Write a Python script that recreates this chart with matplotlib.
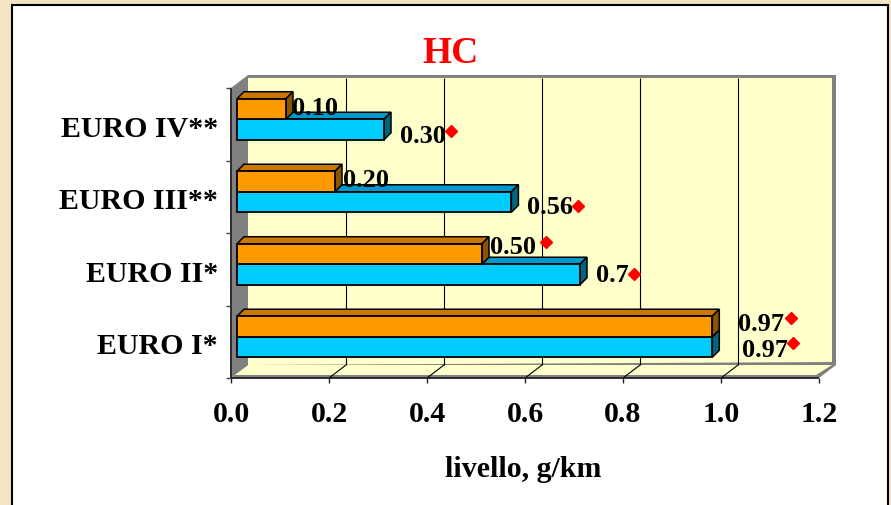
import matplotlib
matplotlib.use("Agg")
import matplotlib.pyplot as plt
from matplotlib.patches import Polygon, Rectangle
from matplotlib.transforms import IdentityTransform

plt.rcParams['font.family'] = ['Liberation Serif', 'DejaVu Serif']
plt.rcParams['font.weight'] = 'bold'

#------------------------------------------------------------------
categories = ['EURO I*', 'EURO II*', 'EURO III**', 'EURO IV**']
blue_vals = [0.97, 0.70, 0.56, 0.30]
orange_vals = [0.97, 0.50, 0.20, 0.10]
blue_labels = ['0.97', '0.7', '0.56', '0.30']
orange_labels = ['0.97', '0.50', '0.20', '0.10']
xticks = [0.0, 0.2, 0.4, 0.6, 0.8, 1.0, 1.2]
title = 'HC'
xlabel = 'livello, g/km'

# label placement (pixels, image y down): text dx, baseline dy, diamond dx, dy
BLUE_LAB = [(30, 9.5, 81, -4.5), (16, 7.5, 54, -0.5), (16, 12, 67, 4), (16, 13.5, 67, 1.5)]
ORANGE_LAB = [(26, 5, 79, -8), (8, 0.5, 64, -11.5), (8, 5.5, None, None), (6, 6.5, None, None)]
#------------------------------------------------------------------
W, H = 891, 505
BAR_H = 0.283
FRONT = (-6, 5)     # front plane offset from bar plane
BACK = (11, -8)     # back wall offset
DEPTH = (7, -7)     # bar depth
BLUE = ('#00CCFF', '#0099CC', '#006680')
ORANGE = ('#FF9900', '#CC7700', '#8A5500')
WALL = '#FFFFCC'
GREY = '#808080'

fig = plt.figure(figsize=(W / 100, H / 100), dpi=100)
fig.patch.set_facecolor('#F4E4C4')
fig.add_artist(Rectangle((12 / W, -0.1), 876 / W, 1 - 5 / H + 0.1, transform=fig.transFigure,
                         facecolor='white', edgecolor='black', lw=1.5, zorder=-5))

ax = fig.add_axes([237 / W, 132 / H, 588 / W, 290 / H])
ax.set_autoscale_on(False)
ax.set_xlim(0, 1.2)
ax.set_ylim(-0.5, 3.5)
ax.axis('off')

def px(x, y, off=(0, 0)):
    X, Y = ax.transData.transform((x, y))
    return (X + off[0], Y - off[1])

def poly(pts, fc, ec='none', lw=0, z=1):
    ax.add_patch(Polygon(pts, closed=True, transform=IdentityTransform(), facecolor=fc,
                         edgecolor=ec, lw=lw, clip_on=False, zorder=z))

def line(p1, p2, c='black', lw=0.8, z=2):
    ax.plot([p1[0], p2[0]], [p1[1], p2[1]], color=c, lw=lw, transform=IdentityTransform(),
            clip_on=False, zorder=z, solid_capstyle='butt')

x0, x1, y0, y1 = 0, 1.2, -0.5, 3.5

# back wall with grey thickness on top/right
bl, tr = px(x0, y0, BACK), px(x1, y1, BACK)
poly([(bl[0], bl[1]), (tr[0], bl[1]), (tr[0], tr[1]), (bl[0], tr[1])], GREY)
poly([(bl[0], bl[1]), (tr[0] - 4, bl[1]), (tr[0] - 4, tr[1] - 3), (bl[0], tr[1] - 3)], WALL)

# floor
ff_l, ff_r = px(x0, y0, FRONT), px(x1, y0, FRONT)
bf_l, bf_r = px(x0, y0, BACK), px(x1, y0, BACK)
poly([ff_l, ff_r, bf_r, (bf_r[0], bf_r[1] + 3), bf_l], GREY)
poly([(ff_l[0], ff_l[1] + 3), (ff_r[0] - 3, ff_r[1] + 3), (bf_r[0] - 4, bf_r[1]), bf_l], WALL)

# left wall
poly([px(x0, y0, FRONT), px(x0, y1, FRONT), px(x0, y1, BACK), px(x0, y0, BACK)], GREY)

# gridlines on back wall and floor
for t in xticks[1:-1]:
    line(px(t, y0, BACK), px(t, y1, (BACK[0], BACK[1] + 3)), lw=0.8)
    line(px(t, y0, FRONT), px(t, y0, BACK), lw=0.8)

# axes lines and ticks
line(px(x0, y0, FRONT), px(x1, y0, FRONT), c='#202020', lw=1.3, z=3)
line(px(x0, y0, FRONT), px(x0, y1, FRONT), c='#202020', lw=1.3, z=3)
for t in xticks:
    p = px(t, y0, FRONT)
    line(p, (p[0], p[1] - 5), c='#202020', lw=1.0, z=3)
    ax.annotate(f'{t:.1f}', xy=(t, y0), xytext=(FRONT[0], -49), textcoords='offset pixels',
                ha='center', va='baseline', fontsize=21.5, fontweight='bold', annotation_clip=False)
for k in range(len(categories) + 1):
    p = px(x0, k - 0.5, FRONT)
    line(p, (p[0] - 5, p[1]), c='#404040', lw=1.0, z=3)
for i, c in enumerate(categories):
    ax.annotate(c, xy=(0, i), xytext=(-19, -17.5), textcoords='offset pixels',
                ha='right', va='baseline', fontsize=21.5, fontweight='bold', annotation_clip=False)

# 3D bars
def bar3d(v, yb, cols, z):
    front, top, side = cols
    a, b = px(0, yb), px(v, yb + BAR_H)
    d = DEPTH
    poly([(a[0], b[1]), (b[0], b[1]), (b[0] + d[0], b[1] - d[1]), (a[0] + d[0], b[1] - d[1])],
         top, 'black', 1.1, z)
    poly([(b[0], a[1]), (b[0], b[1]), (b[0] + d[0], b[1] - d[1]), (b[0] + d[0], a[1] - d[1])],
         side, 'black', 1.1, z)
    poly([(a[0], a[1]), (b[0], a[1]), (b[0], b[1]), (a[0], b[1])], front, 'black', 1.3, z)

for i in range(len(categories)):
    bar3d(blue_vals[i], i - BAR_H, BLUE, 4 + 2 * i)
    bar3d(orange_vals[i], i, ORANGE, 5 + 2 * i)

# value labels with red diamonds
def label(v, yc, txt, spec):
    tdx, tdy, mdx, mdy = spec
    ax.annotate(txt, xy=(v, yc), xytext=(tdx, -tdy), textcoords='offset pixels',
                ha='left', va='baseline', fontsize=19, fontweight='bold', zorder=20,
                annotation_clip=False)
    if mdx is not None:
        p = px(v, yc, (mdx, mdy))
        ax.plot([p[0]], [p[1]], marker='D', ms=6.2, color='#FF0000', transform=IdentityTransform(),
                clip_on=False, zorder=21, mec='#FF0000')

for i in range(len(categories)):
    label(blue_vals[i], i - BAR_H / 2, blue_labels[i], BLUE_LAB[i])
    label(orange_vals[i], i + BAR_H / 2, orange_labels[i], ORANGE_LAB[i])

fig.text(450 / W, 1 - 63 / H, title, color='#FF0000', fontsize=27, fontweight='bold',
         ha='center', va='baseline')
fig.text(523 / W, 1 - 477 / H, xlabel, fontsize=21.5, fontweight='bold', ha='center', va='baseline')

fig.savefig('out.png', dpi=100, facecolor=fig.get_facecolor())
